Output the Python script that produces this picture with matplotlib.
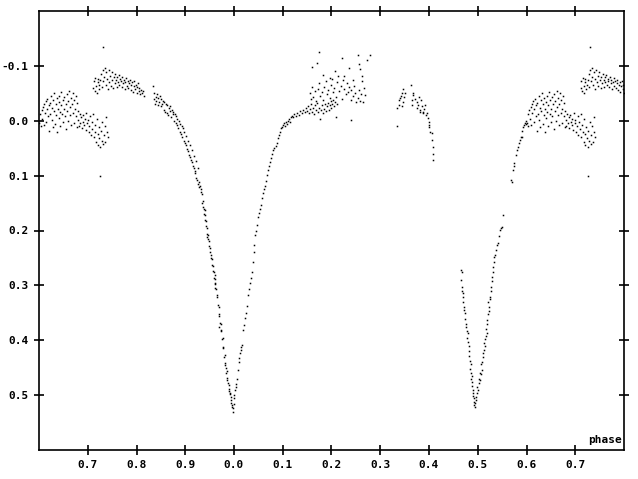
import numpy as np
import matplotlib
matplotlib.use('Agg')
import matplotlib.pyplot as plt
from matplotlib.ticker import FuncFormatter

#light curve, phase (0..1) and differential magnitude
#segment a: out of eclipse cloud after secondary
ph_a = [0.601, 0.603, 0.604, 0.606, 0.607, 0.609, 0.610, 0.611, 0.612, 0.614, 0.615, 0.616, 0.617, 0.619,
        0.620, 0.621, 0.622, 0.623, 0.625, 0.626, 0.627, 0.628, 0.629, 0.630, 0.631, 0.633, 0.634, 0.635,
        0.636, 0.637, 0.638, 0.640, 0.641, 0.642, 0.643, 0.644, 0.645, 0.646, 0.648, 0.649, 0.650, 0.651,
        0.652, 0.653, 0.655, 0.656, 0.657, 0.658, 0.659, 0.660, 0.662, 0.663, 0.664, 0.665, 0.666, 0.667,
        0.669, 0.670, 0.671, 0.672, 0.673, 0.675, 0.676, 0.677, 0.678, 0.679]
mag_a = [0.004, -0.012, 0.010, -0.020, -0.003, -0.025, 0.008, -0.030, -0.015, -0.036, 0.002, -0.022, -0.040, -0.008,
         -0.028, 0.018, -0.033, -0.013, -0.045, -0.002, -0.024, 0.012, -0.038, -0.017, -0.050, 0.006, -0.030, -0.010,
         -0.042, 0.020, -0.022, -0.035, -0.005, -0.046, -0.016, 0.010, -0.028, -0.052, -0.012, -0.038, 0.003, -0.022,
         -0.044, -0.008, -0.030, 0.015, -0.049, -0.018, -0.036, 0.000, -0.054, -0.025, -0.010, -0.042, 0.008, -0.030,
         -0.050, -0.015, -0.038, 0.004, -0.022, -0.045, -0.008, -0.032, 0.012, -0.018]

#segment b: lower night, drifting down
ph_b = [0.681, 0.682, 0.684, 0.685, 0.687, 0.688, 0.690, 0.691, 0.693, 0.694, 0.696, 0.697, 0.699, 0.700,
        0.702, 0.703, 0.705, 0.706, 0.708, 0.709, 0.711, 0.712, 0.714, 0.715, 0.717, 0.718, 0.720, 0.721,
        0.723, 0.724, 0.726, 0.727, 0.729, 0.730, 0.732, 0.733, 0.735, 0.736, 0.738, 0.739, 0.741, 0.726]
mag_b = [-0.002, 0.010, -0.012, 0.004, -0.006, 0.014, -0.010, 0.002, 0.008, -0.004, 0.016, -0.014, 0.005, -0.002,
         0.020, 0.009, -0.008, 0.026, 0.003, 0.015, -0.012, 0.030, 0.008, 0.020, 0.038, -0.004, 0.024, 0.044,
         0.012, 0.032, 0.048, 0.018, 0.036, 0.002, 0.042, 0.026, 0.010, 0.038, -0.006, 0.020, 0.030, 0.100]

#segment c: upper night around max I
ph_c = [0.711, 0.712, 0.714, 0.715, 0.717, 0.718, 0.720, 0.721, 0.723, 0.724, 0.726, 0.728, 0.729, 0.731,
        0.732, 0.734, 0.735, 0.737, 0.738, 0.740, 0.741, 0.743, 0.744, 0.746, 0.747, 0.749, 0.750, 0.752,
        0.753, 0.755, 0.756, 0.758, 0.759, 0.761, 0.762, 0.764, 0.765, 0.767, 0.768, 0.770, 0.771, 0.773,
        0.774, 0.776, 0.777, 0.779, 0.780, 0.782, 0.783, 0.785, 0.786, 0.788, 0.789, 0.791, 0.792, 0.794,
        0.795, 0.797, 0.798, 0.800, 0.802, 0.803, 0.805, 0.806, 0.808, 0.810, 0.812, 0.814, 0.816, 0.731]
mag_c = [-0.060, -0.072, -0.055, -0.078, -0.064, -0.050, -0.070, -0.076, -0.058, -0.066, -0.074, -0.085, -0.062, -0.093,
         -0.072, -0.080, -0.097, -0.066, -0.088, -0.076, -0.058, -0.092, -0.070, -0.082, -0.064, -0.088, -0.075, -0.060,
         -0.080, -0.068, -0.086, -0.074, -0.062, -0.079, -0.070, -0.084, -0.066, -0.076, -0.072, -0.062, -0.080, -0.068,
         -0.074, -0.058, -0.070, -0.078, -0.064, -0.072, -0.060, -0.068, -0.075, -0.056, -0.066, -0.070, -0.052, -0.064,
         -0.072, -0.058, -0.066, -0.050, -0.062, -0.068, -0.054, -0.060, -0.048, -0.056, -0.050, -0.055, -0.046, -0.135]

#segment d: descent into primary
ph_d = [0.834, 0.835, 0.836, 0.838, 0.839, 0.841, 0.842, 0.844, 0.845, 0.847, 0.848, 0.850, 0.851, 0.853,
        0.854, 0.856, 0.857, 0.859, 0.860, 0.862, 0.863, 0.865, 0.866, 0.868, 0.869, 0.871, 0.872, 0.874,
        0.875, 0.877, 0.878, 0.880, 0.881, 0.883, 0.884, 0.886, 0.887, 0.889, 0.890, 0.891, 0.893, 0.894,
        0.895, 0.897, 0.898, 0.899, 0.901, 0.902, 0.903, 0.905, 0.906, 0.907, 0.909, 0.910, 0.911, 0.913,
        0.914, 0.915, 0.917, 0.918, 0.919, 0.921, 0.922, 0.923, 0.925, 0.926, 0.927, 0.929]
mag_d = [-0.064, -0.040, -0.050, -0.030, -0.044, -0.036, -0.048, -0.028, -0.042, -0.034, -0.046, -0.026, -0.040, -0.030,
         -0.036, -0.020, -0.034, -0.016, -0.030, -0.014, -0.028, -0.010, -0.024, -0.018, -0.026, -0.006, -0.020, -0.012,
         -0.016, 0.000, -0.012, 0.004, -0.008, 0.008, -0.004, 0.014, 0.000, 0.020, 0.006, 0.024, 0.010, 0.030,
         0.014, 0.036, 0.020, 0.040, 0.044, 0.028, 0.052, 0.056, 0.036, 0.062, 0.066, 0.044, 0.072, 0.076,
         0.054, 0.082, 0.086, 0.064, 0.092, 0.096, 0.074, 0.104, 0.108, 0.086, 0.116, 0.120]

#segment e: primary eclipse, ingress
ph_e = [0.929, 0.932, 0.931, 0.934, 0.933, 0.936, 0.935, 0.938, 0.937, 0.940, 0.939, 0.943, 0.941, 0.944,
        0.943, 0.946, 0.945, 0.949, 0.947, 0.950, 0.949, 0.953, 0.951, 0.954, 0.953, 0.957, 0.955, 0.958,
        0.957, 0.961, 0.959, 0.962, 0.960, 0.964, 0.962, 0.966, 0.965, 0.969, 0.967, 0.970, 0.969, 0.973,
        0.971, 0.974, 0.973, 0.977, 0.975, 0.978, 0.977, 0.981, 0.979, 0.982, 0.981, 0.985, 0.983, 0.986,
        0.985, 0.989, 0.987, 0.990, 0.989, 0.993, 0.991, 0.994, 0.993, 0.996, 0.995, 0.998, 0.997,
        0.941, 0.945, 0.960, 0.970, 0.984, 0.992]
mag_e = [0.112, 0.124, 0.118, 0.134, 0.130, 0.146, 0.150, 0.160, 0.158, 0.172, 0.170, 0.182, 0.180, 0.196,
         0.192, 0.208, 0.206, 0.220, 0.216, 0.232, 0.228, 0.244, 0.240, 0.252, 0.250, 0.264, 0.262, 0.276,
         0.274, 0.288, 0.286, 0.298, 0.296, 0.306, 0.304, 0.318, 0.322, 0.340, 0.336, 0.352, 0.356, 0.370,
         0.368, 0.382, 0.384, 0.396, 0.398, 0.414, 0.412, 0.426, 0.430, 0.446, 0.442, 0.456, 0.460, 0.472,
         0.468, 0.482, 0.478, 0.492, 0.488, 0.504, 0.498, 0.514, 0.508, 0.522, 0.518, 0.530, 0.524,
         0.162, 0.212, 0.282, 0.376, 0.450, 0.496]

#segment f: primary eclipse, egress
ph_f = [0.999, 0.000, 0.001, 0.002, 0.004, 0.005, 0.006, 0.008, 0.010, 0.011, 0.012, 0.014, 0.015, 0.016,
        0.018, 0.020, 0.022, 0.024, 0.026, 0.028, 0.030, 0.032, 0.034, 0.036, 0.038, 0.040, 0.042, 0.044,
        0.046, 0.048, 0.050, 0.052, 0.054, 0.056, 0.058, 0.060, 0.062, 0.064, 0.066, 0.068, 0.070, 0.072,
        0.074, 0.076, 0.078, 0.080, 0.083, 0.086, 0.088, 0.090, 0.092, 0.094, 0.096, 0.098, 0.100, 0.102,
        0.104, 0.106, 0.108, 0.110, 0.112, 0.114, 0.116, 0.118, 0.121, 0.124, 0.127, 0.130, 0.133, 0.136,
        0.139, 0.142, 0.145, 0.148]
mag_f = [0.516, 0.500, 0.506, 0.491, 0.480, 0.486, 0.470, 0.454, 0.440, 0.432, 0.423, 0.418, 0.412, 0.408,
         0.381, 0.372, 0.360, 0.350, 0.338, 0.318, 0.306, 0.296, 0.286, 0.275, 0.258, 0.240, 0.226, 0.208,
         0.200, 0.190, 0.176, 0.168, 0.160, 0.154, 0.140, 0.132, 0.124, 0.118, 0.110, 0.098, 0.090, 0.082,
         0.076, 0.068, 0.060, 0.054, 0.050, 0.046, 0.040, 0.032, 0.026, 0.020, 0.014, 0.011, 0.008, 0.004,
         0.009, 0.002, 0.006, 0.000, -0.004, 0.002, -0.006, -0.009, -0.006, -0.012, -0.009, -0.014, -0.011, -0.018,
         -0.014, -0.020, -0.016, -0.024]

#segment g: scattered cloud around max II
ph_g = [0.150, 0.152, 0.154, 0.156, 0.158, 0.160, 0.162, 0.164, 0.166, 0.168, 0.170, 0.172, 0.174, 0.176,
        0.178, 0.180, 0.182, 0.184, 0.186, 0.188, 0.190, 0.192, 0.194, 0.196, 0.198, 0.200, 0.202, 0.204,
        0.206, 0.208, 0.210, 0.212,
        0.155, 0.158, 0.161, 0.163, 0.166, 0.169, 0.172, 0.174, 0.177, 0.180, 0.183, 0.185, 0.188, 0.190,
        0.193, 0.196, 0.198, 0.201, 0.203, 0.206, 0.209, 0.211, 0.214, 0.216, 0.219, 0.221, 0.224, 0.226,
        0.229, 0.231, 0.234, 0.236, 0.239, 0.241, 0.244, 0.246, 0.249, 0.251, 0.254, 0.256, 0.259, 0.261,
        0.160, 0.171, 0.174, 0.182, 0.196, 0.207, 0.221, 0.226, 0.236, 0.244, 0.254, 0.257, 0.259, 0.262,
        0.263, 0.272, 0.278, 0.266, 0.268, 0.264, 0.241]
mag_g = [-0.018, -0.026, -0.014, -0.022, -0.030, -0.016, -0.024, -0.012, -0.028, -0.020, -0.032, -0.016, -0.024, -0.004,
         -0.020, -0.028, -0.014, -0.022, -0.030, -0.018, -0.026, -0.032, -0.020, -0.028, -0.036, -0.024, -0.030, -0.038,
         -0.026, -0.034, -0.006, -0.030,
         -0.050, -0.040, -0.062, -0.044, -0.054, -0.036, -0.058, -0.068, -0.046, -0.052, -0.038, -0.062, -0.072, -0.048,
         -0.056, -0.042, -0.066, -0.076, -0.052, -0.060, -0.044, -0.070, -0.082, -0.054, -0.064, -0.040, -0.074, -0.058,
         -0.048, -0.068, -0.052, -0.062, -0.038, -0.056, -0.046, -0.064, -0.050, -0.034, -0.042, -0.056, -0.036, -0.048,
         -0.098, -0.106, -0.126, -0.084, -0.078, -0.090, -0.115, -0.082, -0.096, -0.074, -0.120, -0.104, -0.094, -0.082,
         -0.072, -0.111, -0.119, -0.060, -0.047, -0.035, -0.002]

#segment h: short night before secondary
ph_h = [0.334, 0.334, 0.338, 0.340, 0.344, 0.346, 0.350, 0.346, 0.344, 0.338, 0.342, 0.348,
        0.364, 0.368, 0.368, 0.366, 0.366, 0.375, 0.375, 0.377, 0.379, 0.381, 0.381, 0.385, 0.387, 0.387,
        0.391, 0.393, 0.395, 0.397, 0.401, 0.401, 0.399, 0.403, 0.407, 0.407, 0.409, 0.409, 0.409, 0.372,
        0.384, 0.389]
mag_h = [0.009, -0.024, -0.029, -0.042, -0.051, -0.058, -0.051, -0.035, -0.026, -0.037, -0.046, -0.044,
         -0.066, -0.051, -0.047, -0.038, -0.029, -0.035, -0.024, -0.029, -0.044, -0.020, -0.016, -0.026, -0.016, -0.015,
         -0.028, -0.011, -0.015, -0.005, 0.002, 0.007, 0.011, 0.020, 0.022, 0.035, 0.047, 0.060, 0.071, -0.040,
         -0.038, -0.022]

#segment i: secondary eclipse
ph_i = [0.466, 0.467, 0.466, 0.468, 0.469, 0.467, 0.469, 0.470, 0.472, 0.473, 0.471, 0.474, 0.476, 0.475,
        0.477, 0.479, 0.478, 0.480, 0.482, 0.483, 0.482, 0.484, 0.486, 0.485, 0.487, 0.488, 0.486, 0.489,
        0.488, 0.490, 0.491, 0.490, 0.492, 0.493, 0.492, 0.494, 0.495,
        0.496, 0.497, 0.498, 0.499, 0.500, 0.502, 0.503, 0.504, 0.505, 0.506, 0.508, 0.507, 0.509, 0.510,
        0.511, 0.512, 0.514, 0.513, 0.515, 0.517, 0.518, 0.516, 0.519, 0.520, 0.521, 0.523, 0.524, 0.522,
        0.525, 0.526, 0.527, 0.528, 0.529, 0.530, 0.531, 0.532, 0.533, 0.534, 0.536, 0.538, 0.540, 0.541,
        0.543, 0.545, 0.547, 0.549, 0.551,
        0.569, 0.570, 0.573, 0.575, 0.574, 0.578, 0.580, 0.582, 0.584, 0.586, 0.588, 0.590, 0.591, 0.592,
        0.594, 0.596, 0.598, 0.599]
mag_i = [0.272, 0.276, 0.290, 0.303, 0.314, 0.310, 0.321, 0.330, 0.340, 0.350, 0.344, 0.362, 0.370, 0.376,
         0.384, 0.387, 0.396, 0.404, 0.410, 0.420, 0.428, 0.438, 0.444, 0.452, 0.460, 0.466, 0.470, 0.476,
         0.484, 0.490, 0.496, 0.502, 0.506, 0.512, 0.518, 0.522, 0.514,
         0.504, 0.509, 0.496, 0.485, 0.490, 0.478, 0.470, 0.473, 0.460, 0.462, 0.454, 0.444, 0.440, 0.431,
         0.424, 0.418, 0.410, 0.405, 0.398, 0.392, 0.387, 0.380, 0.370, 0.363, 0.352, 0.346, 0.339, 0.330,
         0.324, 0.321, 0.310, 0.303, 0.292, 0.285, 0.276, 0.266, 0.258, 0.248, 0.244, 0.235, 0.226, 0.223,
         0.210, 0.199, 0.196, 0.193, 0.172,
         0.108, 0.111, 0.089, 0.077, 0.083, 0.062, 0.053, 0.047, 0.040, 0.035, 0.030, 0.029, 0.018, 0.011,
         0.008, 0.004, 0.000, 0.006]

phase = np.array(ph_a + ph_b + ph_c + ph_d + ph_e + ph_f + ph_g + ph_h + ph_i)
mag = np.array(mag_a + mag_b + mag_c + mag_d + mag_e + mag_f + mag_g + mag_h + mag_i)

#plot runs from phase 0.6 to 1.8, so 0.6-0.8 shows up twice
left = phase >= 0.6
right = phase <= 0.8
x = np.concatenate([phase[left], phase[right] + 1.0])
y = np.concatenate([mag[left], mag[right]])

fig = plt.figure(figsize=(6.38, 4.79), dpi=100)
ax = fig.add_axes([39/638, 29/479, 585/638, 439/479])

ax.plot(x, y, 's', color='black', markersize=1.1, markeredgewidth=0)

ax.set_xlim(0.6, 1.8)
ax.set_ylim(0.6, -0.2)  #magnitudes, brighter is up
ax.set_xticks(np.arange(7, 18) / 10)
ax.set_yticks(np.arange(-1, 6) / 10)
ax.xaxis.set_major_formatter(FuncFormatter(lambda v, pos: '%.1f' % ((round(v * 10) % 10) / 10)))
ax.yaxis.set_major_formatter(FuncFormatter(lambda v, pos: '%.1f' % v))

ax.tick_params(direction='inout', length=7, width=1.2, top=True, right=True,
               labelsize=8, pad=4, colors='black')
for lab in ax.get_xticklabels() + ax.get_yticklabels():
    lab.set_fontfamily('DejaVu Sans Mono')
    lab.set_fontweight('bold')
for s in ax.spines.values():
    s.set_linewidth(1.2)

ax.text(0.996, 0.012, 'phase', transform=ax.transAxes, ha='right', va='bottom',
        fontsize=8, fontweight='bold', family='DejaVu Sans Mono')

fig.savefig('out.png', dpi=100)
